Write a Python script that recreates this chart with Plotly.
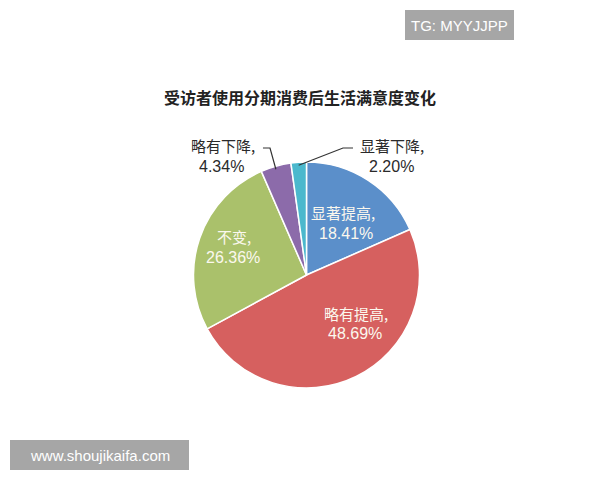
import math
import plotly.graph_objects as go

# Dati del grafico
categorie = ["显著提高", "略有提高", "不变", "略有下降", "显著下降"]
percentuali = [18.41, 48.69, 26.36, 4.34, 2.20]
colori = ["#5B8FCA", "#D6605F", "#AAC16B", "#8C6BAA", "#4BB8CD"]
titolo = "受访者使用分期消费后生活满意度变化"

# la pagina ha 8px di margine sul body
OFF = 8
W, H = 600 - OFF, 480 - OFF
# centro e raggio della torta in pixel (coordinate della finestra)
cx, cy, r = 306.5, 275, 113


def px2paper(x, y):
    return (x - OFF) / W, 1 - (y - OFF) / H


x0d, y1d = px2paper(cx - r, cy - r)
x1d, y0d = px2paper(cx + r, cy + r)

fig = go.Figure(go.Pie(
    labels=categorie,
    values=percentuali,
    marker=dict(colors=colori, line=dict(color="white", width=1.5)),
    sort=False,
    direction="clockwise",
    rotation=0,
    textinfo="none",
    hoverinfo="label+percent",
    domain=dict(x=[x0d, x1d], y=[y0d, y1d]),
    showlegend=False,
))


def punto_bordo(i):
    # punto sul bordo a metà della fetta i
    prima = sum(percentuali[:i])
    meta = (prima + percentuali[i] / 2) / sum(percentuali)
    ang = 2 * math.pi * meta
    return cx + r * math.sin(ang), cy - r * math.cos(ang)


annotations = []
shapes = []
font_cjk = "Noto Sans CJK SC"
font_num = "Liberation Sans"


def testo(x, y, t, colore, size=16, family=font_cjk):
    px_, py_ = px2paper(x, y)
    annotations.append(dict(
        x=px_, y=py_, xref="paper", yref="paper", showarrow=False,
        xanchor="center", yanchor="middle", text=t,
        font=dict(family=family, size=size, color=colore),
    ))


# etichette: (x riga1, x riga2, y centro) in pixel
pos_etichette = {
    0: (343, 346, 223),
    1: (356, 355, 323.5),
    2: (233.5, 232.5, 247),
    3: (222.5, 221.5, 156),
    4: (392, 391.5, 156),
}
for i, (x1, x2, ym) in pos_etichette.items():
    colore = "#FBF8EE" if i < 3 else "#2a2a2a"
    testo(x1, ym - 10.3, f"{categorie[i]},", colore, size=15)
    testo(x2, ym + 10.3, f"{percentuali[i]:.2f}%", colore, size=16, family=font_num)

# linee guida per le fette piccole (gomito, fine)
guide = {3: ((270, 148), (263, 148)), 4: ((343, 148), (353, 148))}
for i, ((kx, ky), (ex, ey)) in guide.items():
    bx, by = punto_bordo(i)
    punti = [px2paper(bx, by + 3), px2paper(kx, ky), px2paper(ex, ey)]
    path = "M" + " L".join(f"{a:.4f},{b:.4f}" for a, b in punti)
    shapes.append(dict(type="path", xref="paper", yref="paper", path=path,
                       line=dict(color="#333333", width=1.2)))

# titolo
testo(300, 97, f"<b>{titolo}</b>", "#222222")

# watermark
for t, (x0, y0, x1, y1) in [("TG: MYYJJPP", (405, 10, 514, 40)),
                            ("www.shoujikaifa.com", (10, 440, 189, 470))]:
    ax0, ay1 = px2paper(x0, y0)
    ax1, ay0 = px2paper(x1, y1)
    shapes.append(dict(type="rect", xref="paper", yref="paper",
                       x0=ax0, x1=ax1, y0=ay0, y1=ay1,
                       fillcolor="#A6A6A6", line=dict(width=0)))
    testo((x0 + x1) / 2, (y0 + y1) / 2, t, "white", size=15, family=font_num)

fig.update_layout(
    width=W, height=H,
    margin=dict(l=0, r=0, t=0, b=0),
    paper_bgcolor="white",
    plot_bgcolor="white",
    annotations=annotations,
    shapes=shapes,
)

fig.write_html("out.html")
